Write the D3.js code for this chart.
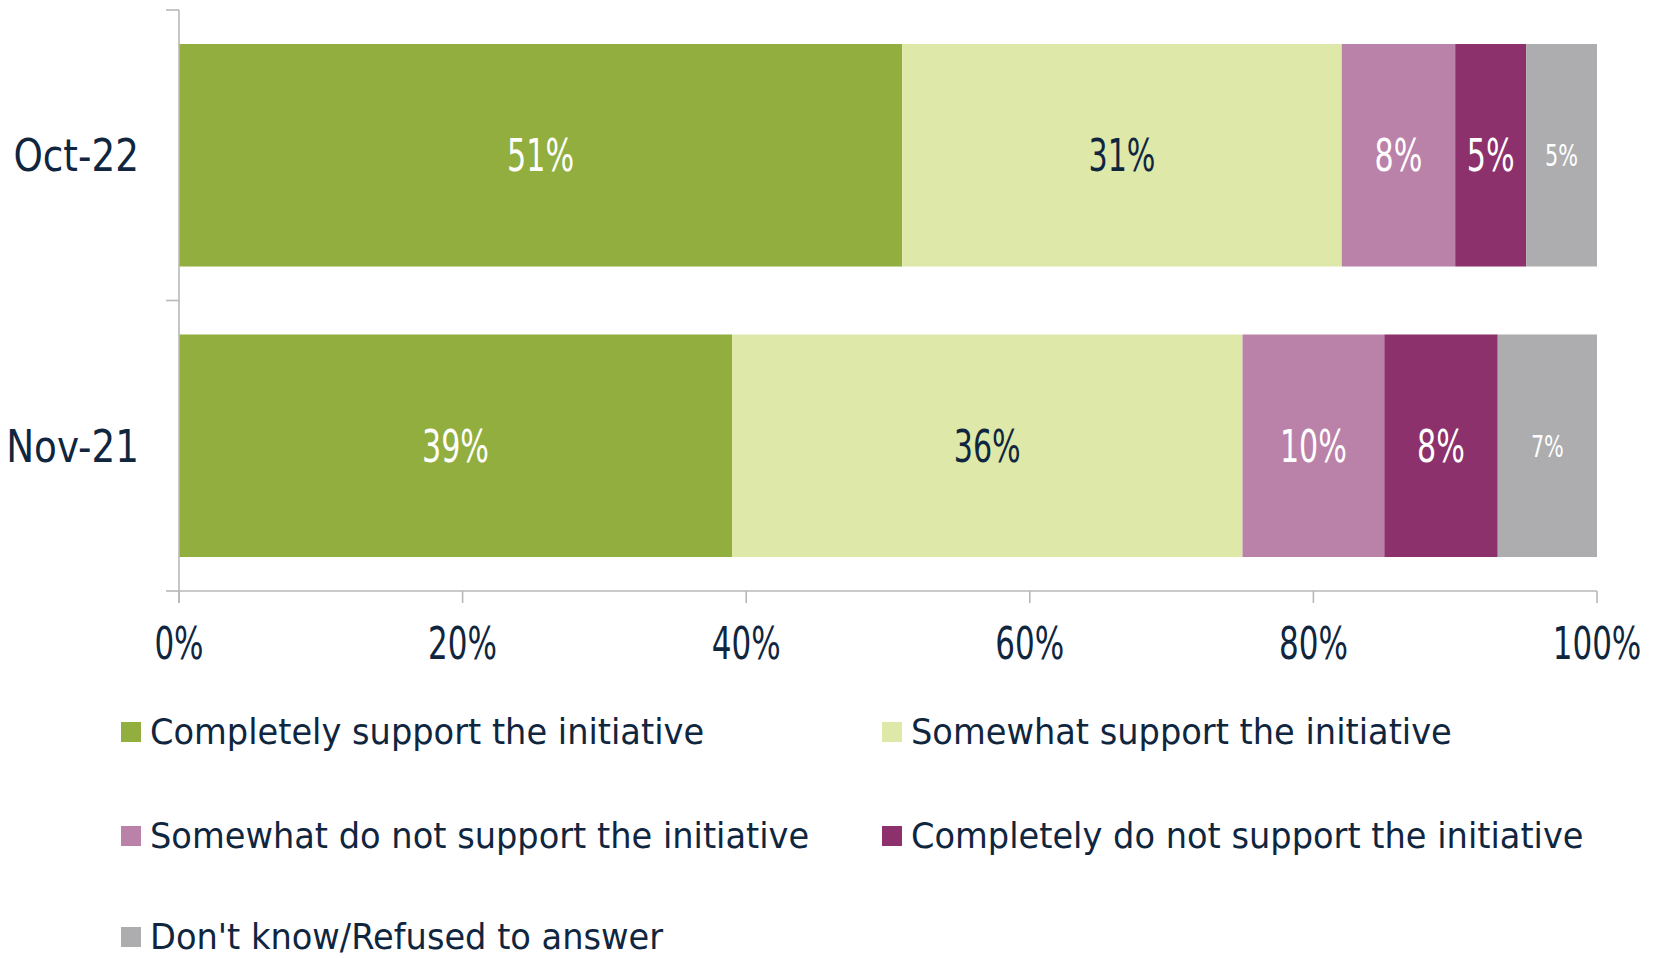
<!DOCTYPE html>
<html>
<head>
<meta charset="utf-8">
<script src="https://cdn.jsdelivr.net/npm/d3@7/dist/d3.min.js"></script>
<style>
  html, body { margin: 0; padding: 0; background: #ffffff; }
  svg { display: block; }
  text { font-family: "DejaVu Sans", sans-serif; }
</style>
</head>
<body>
<svg id="chart" width="1661" height="958"></svg>
<script>
// ---- data ----
const categories = ["Oct-22", "Nov-21"];
const seriesNames = [
  "Completely support the initiative",
  "Somewhat support the initiative",
  "Somewhat do not support the initiative",
  "Completely do not support the initiative",
  "Don't know/Refused to answer"
];
const completelySupport   = [51, 39];
const somewhatSupport     = [31, 36];
const somewhatNotSupport  = [8, 10];
const completelyNotSupport = [5, 8];
const dontKnow            = [5, 7];
const xTicks = [0, 20, 40, 60, 80, 100];
const xTickLabels = ["0%", "20%", "40%", "60%", "80%", "100%"];

const seriesValues = [completelySupport, somewhatSupport, somewhatNotSupport, completelyNotSupport, dontKnow];
const colors = ["#92ae3f", "#dde8a9", "#bb82a9", "#8c316c", "#adadaf"];
const labelColors = ["#ffffff", "#10263f", "#ffffff", "#ffffff", "#ffffff"];
const labelSizes = [45, 45, 45, 45, 31];
const navy = "#10263f";
const axisColor = "#b8b8b8";

const svg = d3.select("#chart");

const plotLeft = 179, plotRight = 1597, plotTop = 10, plotBottom = 591;

const x = d3.scaleLinear().domain([0, 100]).range([plotLeft, plotRight]);
const y = d3.scaleBand().domain(categories).range([plotTop, plotBottom])
  .paddingInner(0.234).paddingOuter(0.117);

// build stacked data
const rows = categories.map((c, i) => {
  const r = { cat: c };
  seriesNames.forEach((s, k) => { r[s] = seriesValues[k][i]; });
  return r;
});
const stacked = d3.stack().keys(seriesNames)(rows);

// bars
const gBars = svg.append("g");
stacked.forEach((layer, k) => {
  gBars.selectAll(null)
    .data(layer)
    .join("rect")
    .attr("x", d => x(d[0]))
    .attr("y", d => y(d.data.cat))
    .attr("width", d => x(d[1]) - x(d[0]))
    .attr("height", y.bandwidth())
    .attr("fill", colors[k]);
});

// data labels (condensed look via horizontal scaling)
const labelScale = 0.67;
stacked.forEach((layer, k) => {
  gBars.selectAll(null)
    .data(layer)
    .join("g")
    .attr("transform", d => `translate(${(x(d[0]) + x(d[1])) / 2},${y(d.data.cat) + y.bandwidth() / 2}) scale(${labelScale},1)`)
    .append("text")
    .attr("text-anchor", "middle")
    .attr("dy", "0.36em")
    .attr("font-size", labelSizes[k])
    .attr("fill", labelColors[k])
    .text(d => (d[1] - d[0]) + "%");
});

// y axis line and ticks at category boundaries
const gAxis = svg.append("g").attr("stroke", axisColor).attr("stroke-width", 1.6);
gAxis.append("line").attr("x1", plotLeft).attr("x2", plotLeft).attr("y1", plotTop).attr("y2", plotBottom + 12);
const step = y.step();
const boundaries = d3.range(categories.length + 1).map(i => plotTop + i * step);
gAxis.selectAll(null).data(boundaries).join("line")
  .attr("x1", plotLeft - 13).attr("x2", plotLeft).attr("y1", d => d).attr("y2", d => d);

// x axis line and ticks
gAxis.append("line").attr("x1", plotLeft).attr("x2", plotRight).attr("y1", plotBottom).attr("y2", plotBottom);
gAxis.selectAll(null).data(xTicks).join("line")
  .attr("x1", d => x(d)).attr("x2", d => x(d)).attr("y1", plotBottom).attr("y2", plotBottom + 12);

// x tick labels
svg.append("g").selectAll(null).data(xTicks).join("g")
  .attr("transform", (d, i) => `translate(${x(d)},659) scale(0.69,1)`)
  .append("text")
  .attr("text-anchor", "middle")
  .attr("font-size", 45)
  .attr("fill", navy)
  .text((d, i) => xTickLabels[i]);

// category labels
svg.append("g").selectAll(null).data(categories).join("g")
  .attr("transform", d => `translate(139,${y(d) + y.bandwidth() / 2}) scale(0.83,1)`)
  .append("text")
  .attr("text-anchor", "end")
  .attr("dy", "0.36em")
  .attr("font-size", 45)
  .attr("fill", navy)
  .text(d => d);

// legend
const legendColX = [121, 882];
const legendRowY = [744, 848, 949];
const gLeg = svg.append("g");
seriesNames.forEach((s, i) => {
  const cx = legendColX[i % 2];
  const by = legendRowY[Math.floor(i / 2)];
  gLeg.append("rect")
    .attr("x", cx).attr("y", by - 22).attr("width", 20).attr("height", 20)
    .attr("fill", colors[i]);
  gLeg.append("g")
    .attr("transform", `translate(${cx + 29},${by}) scale(0.935,1)`)
    .append("text")
    .attr("font-size", 36)
    .attr("fill", navy)
    .text(s);
});
</script>
</body>
</html>
